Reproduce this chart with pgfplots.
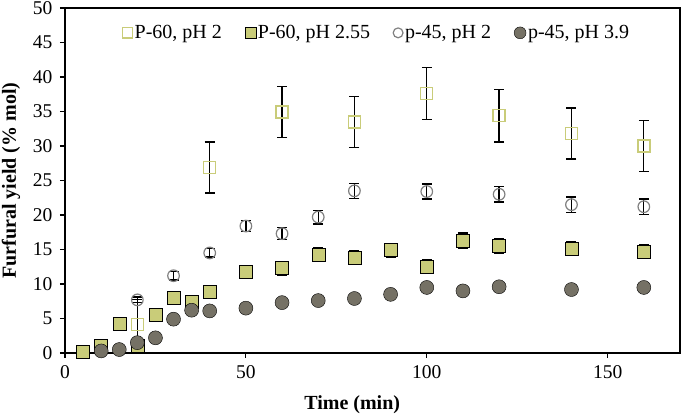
\documentclass[border=0pt]{standalone}
\usepackage{fontspec}
\setmainfont{Liberation Serif}
\usepackage{pgfplots}
\usepackage{pgfplotstable}
\pgfplotsset{compat=1.18}
\definecolor{olive}{HTML}{C9CC79}
\definecolor{dgray}{HTML}{757165}
\definecolor{cgray}{HTML}{808080}

\pgfplotstableread{
x y e
20 4.1 3.7
40 26.9 3.7
60 34.9 3.7
80 33.5 3.7
100 37.6 3.8
120 34.4 3.8
140 31.8 3.7
160 30.0 3.7
}\pa
\pgfplotstableread{
x y e
5 0.2 0.6
10 1.0 0.4
15 4.2 0.8
20 1.1 0.5
25 5.6 0.7
30 8.0 0.8
35 7.5 0.6
40 8.9 0.9
50 11.8 0.9
60 12.3 1.0
70 14.3 1.0
80 13.8 1.0
90 14.9 1.0
100 12.5 1.0
110 16.3 1.1
120 15.5 1.1
140 15.1 1.0
160 14.7 1.0
}\pb
\pgfplotstableread{
x y e
20 7.7 0.4
30 11.2 0.6
40 14.5 0.6
50 18.4 0.8
60 17.3 0.9
70 19.7 1.0
80 23.5 1.1
100 23.4 1.1
120 23.0 1.1
140 21.5 1.1
160 21.2 1.1
}\pc
\pgfplotstableread{
x y
10 0.3
15 0.5
20 1.5
25 2.2
30 4.9
35 6.2
40 6.1
50 6.5
60 7.3
70 7.6
80 7.9
90 8.5
100 9.5
110 9.0
120 9.6
140 9.2
160 9.5
}\pd

\begin{document}
\begin{tikzpicture}
\begin{axis}[
  scale only axis,
  width=615pt, height=345pt,
  xmin=0, xmax=170, ymin=0, ymax=50,
  xtick={0,50,100,150},
  ytick={0,5,...,50},
  tick align=outside,
  xtick pos=bottom, ytick pos=left,
  major tick length=5pt,
  axis line style={line width=1.2pt},
  every tick/.style={black, line width=1.2pt},
  /pgf/number format/assume math mode=true,
  ticklabel style={font=\fontsize{19.5}{22}\selectfont},
  xticklabel style={yshift=-4pt},
  yticklabel style={xshift=-4pt},
  xlabel={\textbf{Time (min)}},
  ylabel={\textbf{Furfural yield (\% mol)}},
  xlabel style={at={(rel axis cs:0.467,0)}, anchor=center, yshift=-52pt, font=\fontsize{20}{24}\selectfont},
  ylabel style={at={(rel axis cs:0,0.5)}, anchor=center, yshift=54pt, font=\fontsize{20}{24}\selectfont},
  legend columns=4,
  legend style={at={(rel axis cs:0.507,0.928)}, anchor=center, draw=none, fill=none,
    font=\fontsize{20}{24}\selectfont, inner sep=0pt,
    /tikz/every even column/.append style={column sep=21pt},
    cells={anchor=west}},
  legend image code/.code={\draw[#1, /tikz/every mark/.append style={scale=0.85}] plot coordinates {(5pt,0pt)};},
  error bars/error bar style={black, line width=1.3pt},
  error bars/error mark options={rotate=90, mark size=5pt, black, line width=1.3pt},
]
\coordinate (sw) at (rel axis cs:0,0);
\coordinate (ne) at (rel axis cs:1,1);
% error bars first, behind the markers
\addplot[forget plot, draw=none, mark=none, error bars/.cd, y dir=both, y explicit] table[x=x, y=y, y error=e] {\pa};
\addplot[forget plot, draw=none, mark=none, error bars/.cd, y dir=both, y explicit] table[x=x, y=y, y error=e] {\pb};
\addplot[forget plot, draw=none, mark=none, error bars/.cd, y dir=both, y explicit] table[x=x, y=y, y error=e] {\pc};
% markers
\addplot[only marks, mark=square, mark size=6pt, mark options={draw=olive, line width=1.4pt, fill=none}] table[x=x, y=y] {\pa};
\addlegendentry{P-60, pH 2}
\addplot[only marks, mark=square*, mark size=6.5pt, mark options={draw=none, fill=olive}] table[x=x, y=y] {\pb};
\addlegendentry{P-60, pH 2.55}
\addplot[only marks, mark=o, mark size=5.8pt, mark options={draw=cgray, line width=1.2pt, fill=none}] table[x=x, y=y] {\pc};
\addlegendentry{p-45, pH 2}
\addplot[only marks, mark=*, mark size=7pt, mark options={draw=none, fill=dgray}] table[x=x, y=y] {\pd};
\addlegendentry{p-45, pH 3.9}
\end{axis}
\pgfresetboundingbox
\path[use as bounding box] ([shift={(-65pt,-66pt)}]sw) rectangle ([shift={(5pt,8pt)}]ne);
\end{tikzpicture}
\end{document}
